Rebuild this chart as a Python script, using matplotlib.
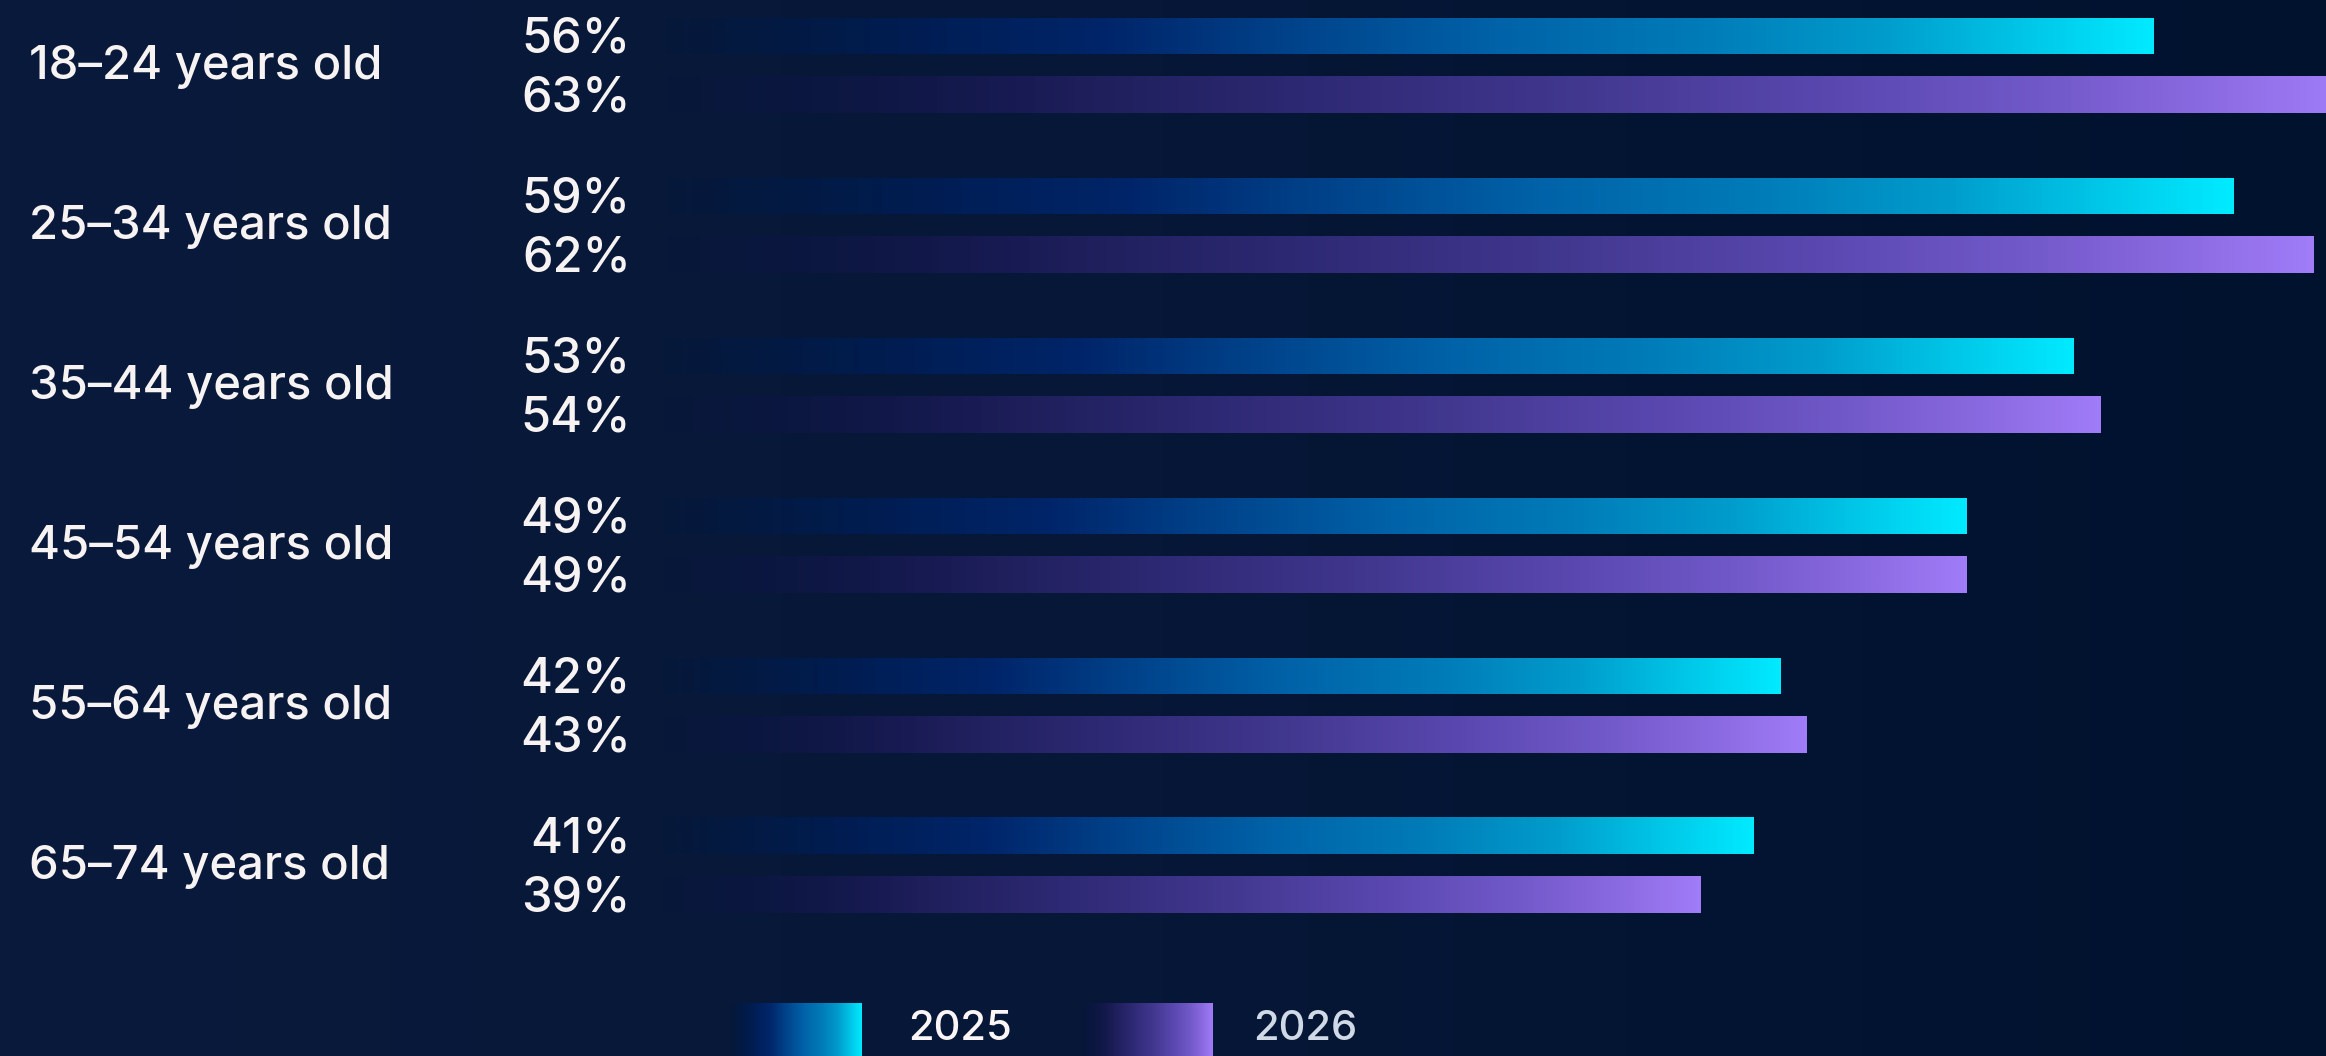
import numpy as np
import matplotlib.pyplot as plt
from matplotlib.colors import LinearSegmentedColormap, to_rgba

plt.rcParams['font.family'] = ['Inter', 'DejaVu Sans']
plt.rcParams['font.weight'] = 'medium'

groups = ['18–24 years old', '25–34 years old', '35–44 years old',
          '45–54 years old', '55–64 years old', '65–74 years old']
vals_2025 = [56, 59, 53, 49, 42, 41]
vals_2026 = [63, 62, 54, 49, 43, 39]
years = ['2025', '2026']

W, H = 2326, 1056
txt = '#f8f3f3'


def fade_cmap(name, stops):
    cols = []
    for pos, c, a in stops:
        r, g, b, _ = to_rgba(c)
        cols.append((pos, (r, g, b, a)))
    return LinearSegmentedColormap.from_list(name, cols)


cm_2025 = fade_cmap('c25', [(0.0, '#021a45', 0.0), (0.05, '#021a45', 0.6),
                            (0.18, '#001e55', 1), (0.3, '#00256a', 1),
                            (0.42, '#00428a', 1), (0.56, '#0062a8', 1),
                            (0.7, '#007cb8', 1), (0.82, '#009ccc', 1),
                            (0.92, '#00c8e8', 1), (1.0, '#00eaff', 1)])
cm_2026 = fade_cmap('c26', [(0.0, '#0c1642', 0.0), (0.06, '#0c1642', 0.6),
                            (0.22, '#1a1c55', 1), (0.42, '#322c7a', 1),
                            (0.55, '#423890', 1), (0.7, '#5a48b0', 1),
                            (0.82, '#7058c8', 1), (0.92, '#8a6ae0', 1),
                            (1.0, '#a07cf8', 1)])

fig = plt.figure(figsize=(W / 100, H / 100), dpi=100)

# background: dark navy, slightly lighter on the left
bg = fig.add_axes([0, 0, 1, 1])
bg_cm = LinearSegmentedColormap.from_list('bg', ['#0a1a3c', '#061737', '#01122f'])
bg.imshow(np.linspace(0, 1, 256)[None, :], cmap=bg_cm, aspect='auto',
          extent=[0, 1, 0, 1])
bg.set_axis_off()

# bar area: x=0 sits at 660 px, 26.67 px per percent
x0 = 660
ppx = 26.67
ax = fig.add_axes([x0 / W, 0, 1 - x0 / W, 1])
ax.set_xlim(0, (W - x0) / ppx)
ax.set_ylim((H - 65.3) / 160, -65.3 / 160)
ax.set_axis_off()
ax.patch.set_alpha(0)

y = np.arange(len(groups))
off = 29.3 / 160
bh = 37 / 160
grad = np.linspace(0, 1, 512)[None, :]

for vals, cmap, dy in [(vals_2025, cm_2025, -off), (vals_2026, cm_2026, off)]:
    bars = ax.barh(y + dy, vals, height=bh, color='none', edgecolor='none')
    for bar, v in zip(bars, vals):
        yc = bar.get_y()
        im = ax.imshow(grad, cmap=cmap, aspect='auto', interpolation='bilinear',
                       extent=[0, v, yc + bh, yc])
        im.set_clip_path(bar)
        ax.annotate(f'{v}%', xy=(0, yc + bh / 2), xytext=(-21, -2.5),
                    textcoords='offset points', ha='right', va='center',
                    fontsize=35, color=txt, annotation_clip=False)

for i, g in enumerate(groups):
    ax.annotate(g, xy=(0, i), xycoords=('figure fraction', 'data'),
                xytext=(21, -1.5), textcoords='offset points',
                ha='left', va='center', fontsize=34, color=txt)

# legend row at the bottom
leg_items = [(years[0], cm_2025, 730, 908, '#fbf5f5'),
             (years[1], cm_2026, 1082, 1253, '#d0dae6')]
for label, cmap, px, tx, tc in leg_items:
    lax = fig.add_axes([px / W, 0, 131 / W, (H - 1003) / H])
    lax.imshow(grad, cmap=cmap, aspect='auto', extent=[0, 1, 0, 1],
               interpolation='bilinear')
    lax.set_axis_off()
    fig.text(tx / W, (H - 1029) / H, label, ha='left', va='center',
             fontsize=30, color=tc)

fig.savefig('out.png', dpi=100)
